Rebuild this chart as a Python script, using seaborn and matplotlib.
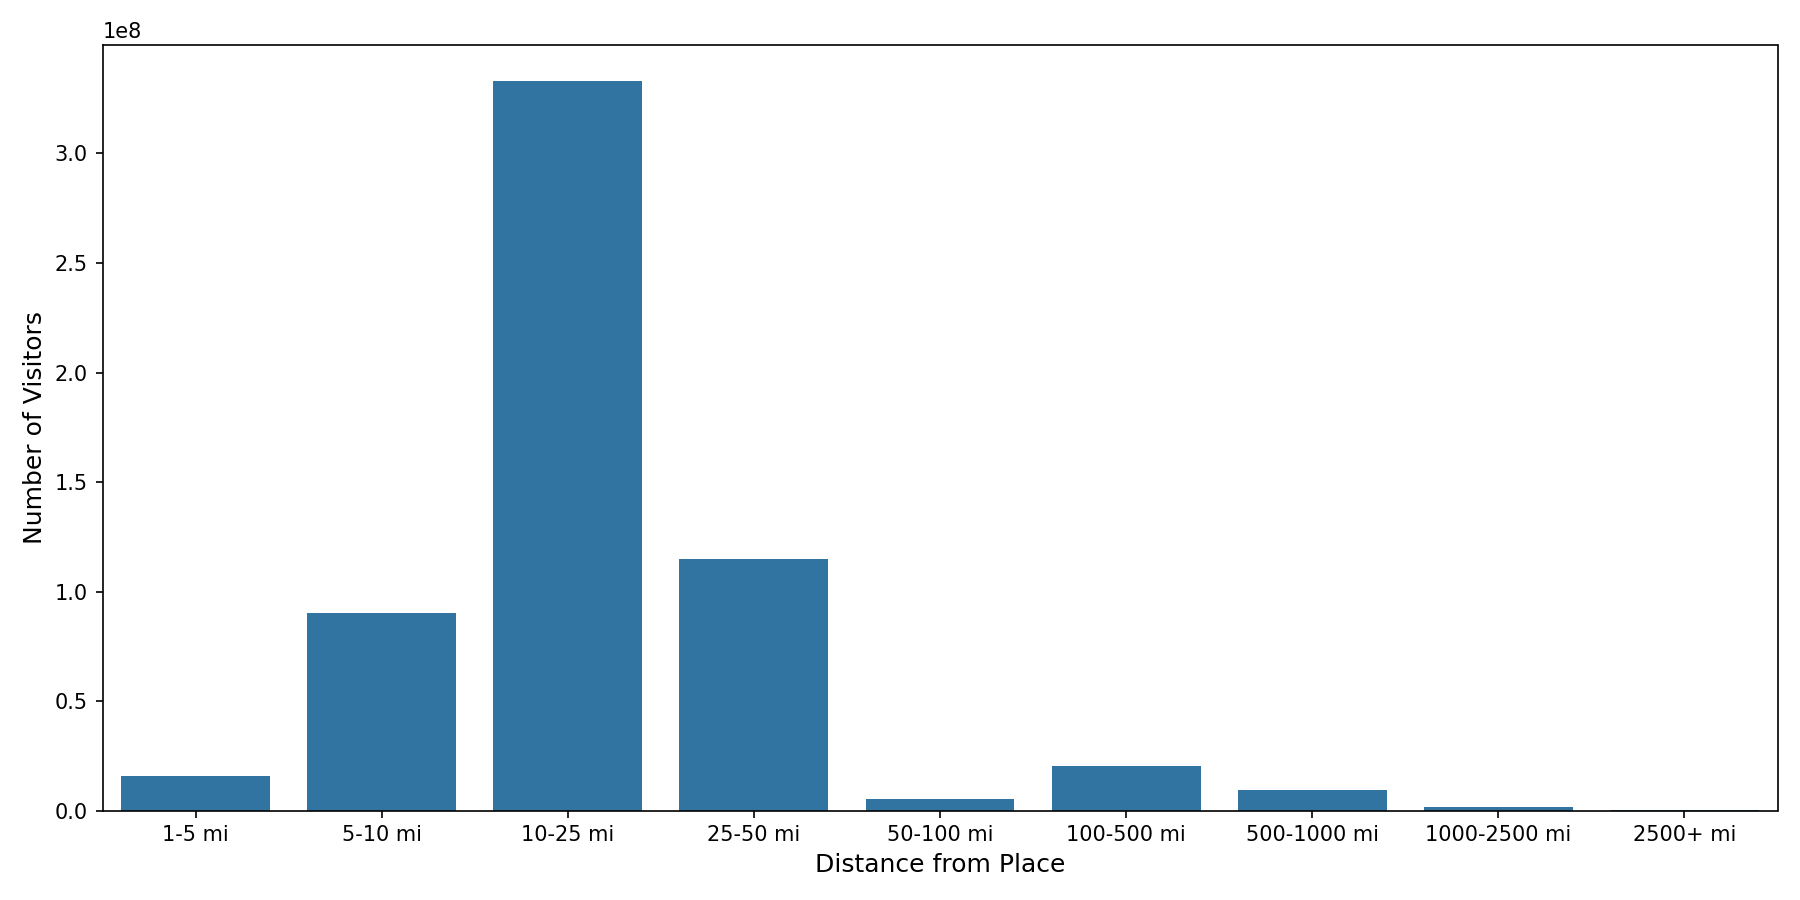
import matplotlib
matplotlib.use("Agg")
import matplotlib.pyplot as plt
import seaborn as sns
import pandas as pd

distance_bins = ["1-5 mi", "5-10 mi", "10-25 mi", "25-50 mi", "50-100 mi",
                 "100-500 mi", "500-1000 mi", "1000-2500 mi", "2500+ mi"]
visitors = [1.6e7, 9.0e7, 3.33e8, 1.15e8, 5.3e6, 2.05e7, 9.5e6, 1.6e6, 1.0e5]

df = pd.DataFrame({"distance": distance_bins, "visitors": visitors})

fig, ax = plt.subplots(figsize=(12, 6), dpi=150)
sns.barplot(data=df, x="distance", y="visitors", color="#1f77b4", saturation=0.75, ax=ax)
ax.set_xlabel("Distance from Place", fontsize=12)
ax.set_ylabel("Number of Visitors", fontsize=12)
plt.tight_layout()
plt.savefig("out.png", dpi=150)
plt.close()
